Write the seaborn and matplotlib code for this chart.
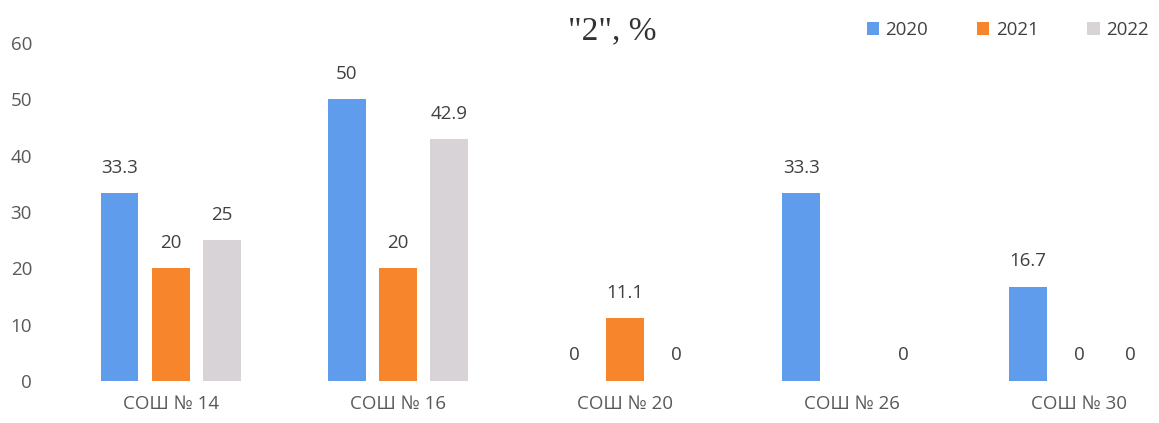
import numpy as np
import pandas as pd
import matplotlib
matplotlib.use("Agg")
import matplotlib.pyplot as plt
import seaborn as sns

categories = ["СОШ № 14", "СОШ № 16", "СОШ № 20", "СОШ № 26", "СОШ № 30"]
years = ["2020", "2021", "2022"]
values_2020 = [33.3, 50, 0, 33.3, 16.7]
values_2021 = [20, 20, 11.1, np.nan, 0]
values_2022 = [25, 42.9, 0, 0, 0]
colors = ["#5F9DEC", "#F7852B", "#D8D3D6"]
title = '"2", %'

series = {"2020": values_2020, "2021": values_2021, "2022": values_2022}
rows = []
for y in years:
    for c, v in zip(categories, series[y]):
        rows.append({"school": c, "year": y, "value": v})
df = pd.DataFrame(rows)

sns.set_theme(style="white")
plt.rcParams["font.family"] = ["Open Sans", "DejaVu Sans"]

fig = plt.figure(figsize=(11.59, 4.23), dpi=100)
ax = fig.add_axes([57 / 1159, 42 / 423, (1193 - 57) / 1159, (381 - 43) / 423])

sns.barplot(data=df, x="school", y="value", hue="year", order=categories,
            hue_order=years, palette=colors, width=0.675, gap=0.26,
            saturation=1, errorbar=None, ax=ax, legend=True, linewidth=0)

ax.set_ylim(0, 60)
ax.set_yticks(range(0, 61, 10))
ax.set_xlim(-0.5, 4.5)
ax.set_xlabel("")
ax.set_ylabel("")
for s in ax.spines.values():
    s.set_visible(False)
ax.tick_params(axis="both", length=0, colors="#595959", labelsize=13.5)
ax.tick_params(axis="y", pad=18)
ax.tick_params(axis="x", pad=10)

for cont in ax.containers:
    labels = []
    for v in cont.datavalues:
        labels.append("" if np.isnan(v) else f"{v:g}")
    ax.bar_label(cont, labels=labels, padding=12, fontsize=13.5, color="#404040")

leg = ax.legend(loc="upper left", bbox_to_anchor=(850 / 1159, 1 - 4 / 423),
                bbox_transform=fig.transFigure, ncol=3, frameon=False,
                fontsize=13.5, handlelength=0.65, handleheight=0.65,
                columnspacing=2.6, handletextpad=0.35, labelcolor="#404040")

fig.text(612 / 1159, 1 - 31 / 423, title, ha="center", va="center",
         fontsize=24, family=["Liberation Serif", "DejaVu Serif"], color="#333333")

fig.savefig("out.png", dpi=100)
